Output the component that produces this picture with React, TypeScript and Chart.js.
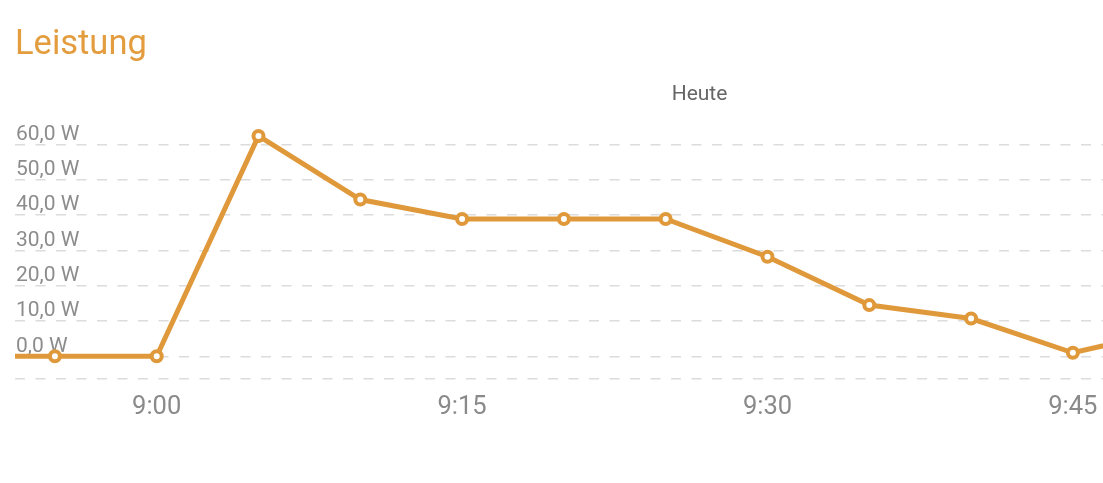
import React, { useEffect, useRef } from "react";
import { Chart, registerables } from "chart.js";

Chart.register(...registerables);

// Time of each reading, in minutes since midnight (8:50 … 9:50)
const times = [530, 535, 540, 545, 550, 555, 560, 565, 570, 575, 580, 585, 590];
// Power in watts
const powerW = [0, 0, 0, 62.4, 44.4, 38.9, 38.9, 38.9, 28.2, 14.5, 10.7, 1.0, 7.6];
// Axis ticks
const xTickMinutes = [540, 555, 570, 585];
const yTickValues = [0, 10, 20, 30, 40, 50, 60];
const X_MIN = 533.04;
const X_MAX = 586.48;
const Y_MIN = -6.26;
const Y_MAX = 68;

const TITLE = "Leistung";
const SERIES = "Heute";

const ORANGE = "#E0993A";
const FONT = "Roboto, 'Noto Sans', sans-serif";

function fmtTime(v: number): string {
  const h = Math.floor(v / 60);
  const m = Math.round(v - h * 60);
  return `${h}:${m < 10 ? "0" + m : m}`;
}

function fmtW(v: number): string {
  return v.toFixed(1).replace(".", ",") + " W";
}

export default function App() {
  const ref = useRef<HTMLCanvasElement | null>(null);

  useEffect(() => {
    if (!ref.current) return;
    const chart = new Chart(ref.current, {
      type: "line",
      data: {
        datasets: [
          {
            label: SERIES,
            data: times.map((t, i) => ({ x: t, y: powerW[i] })),
            borderColor: ORANGE,
            borderWidth: 5,
            pointRadius: 5,
            pointBorderWidth: 4,
            pointBackgroundColor: "#ffffff",
            pointBorderColor: ORANGE,
            tension: 0,
            clip: { left: 0, right: 0, top: 10, bottom: 10 } as any,
          },
        ],
      },
      options: {
        responsive: false,
        animation: false,
        devicePixelRatio: 1,
        layout: {
          autoPadding: false,
          padding: { left: 15, right: 0, top: 116.2, bottom: 46 },
        },
        plugins: {
          legend: { display: false },
          tooltip: { enabled: false },
          title: { display: false },
        },
        scales: {
          x: {
            type: "linear",
            min: X_MIN,
            max: X_MAX,
            afterBuildTicks: (scale: any) => {
              scale.ticks = xTickMinutes.map((v) => ({ value: v }));
            },
            afterFit: (scale: any) => {
              scale.paddingLeft = 0;
              scale.paddingRight = 0;
            },
            grid: { display: false, drawTicks: false },
            border: { display: false },
            ticks: {
              padding: 14,
              color: "#8a8a8a",
              font: { family: FONT, size: 25.5 },
              callback: (v: any) => fmtTime(Number(v)),
              maxRotation: 0,
              autoSkip: false,
            },
          },
          y: {
            type: "linear",
            min: Y_MIN,
            max: Y_MAX,
            afterBuildTicks: (scale: any) => {
              scale.ticks = [Y_MIN, ...yTickValues].map((v) => ({ value: v }));
            },
            afterFit: (scale: any) => {
              scale.width = 0;
              scale.paddingTop = 0;
              scale.paddingBottom = 0;
            },
            grid: { color: "#dcdcdc", lineWidth: 1.5, drawTicks: false },
            border: { display: false, dash: [10, 10.5] },
            ticks: {
              mirror: true,
              padding: 1,
              labelOffset: -10,
              color: "#8c8c8c",
              font: { family: FONT, size: 21 },
              callback: (v: any) => (Number(v) < 0 ? "" : fmtW(Number(v))),
              autoSkip: false,
            },
          },
        },
      },
    });
    return () => chart.destroy();
  }, []);

  return (
    <div
      style={{
        position: "fixed",
        left: 0,
        top: 0,
        width: 1103,
        height: 483,
        background: "#ffffff",
        overflow: "hidden",
      }}
    >
      <canvas
        ref={ref}
        width={1103}
        height={483}
        style={{ position: "absolute", left: 0, top: 0, width: 1103, height: 483 }}
      />
      <div
        style={{
          position: "absolute",
          left: 15,
          top: 25,
          fontFamily: FONT,
          fontSize: 34.5,
          lineHeight: 1,
          color: "#E39D3F",
          whiteSpace: "nowrap",
        }}
      >
        {TITLE}
      </div>
      <div
        style={{
          position: "absolute",
          left: 699.5,
          top: 83,
          transform: "translateX(-50%)",
          fontFamily: FONT,
          fontSize: 21,
          lineHeight: 1,
          color: "#666666",
          whiteSpace: "nowrap",
        }}
      >
        {SERIES}
      </div>
    </div>
  );
}
